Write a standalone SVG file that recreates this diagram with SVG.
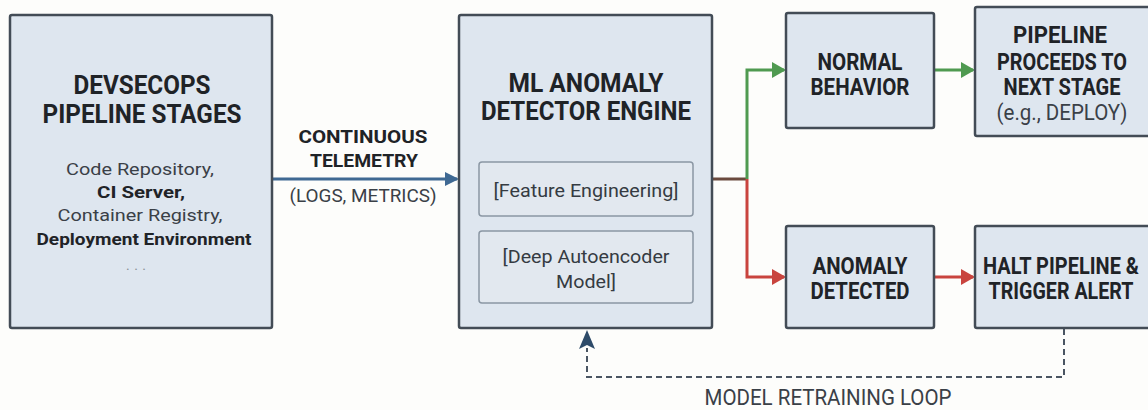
<svg xmlns="http://www.w3.org/2000/svg" width="1148" height="410" viewBox="0 0 1148 410">
<style>
.box{fill:#dee6ef;stroke:#434c56;stroke-width:2.5}
.inner{fill:#e2e8ef;stroke:#8b97a4;stroke-width:1.5}
text{font-family:Roboto,"Liberation Sans",sans-serif;text-anchor:middle;fill:#1f2327}
.t{font-weight:700;font-size:26px}
.h{font-weight:700;font-size:23px}
.b{font-size:17px;fill:#3a4047}
.bb{font-size:17px;font-weight:700;fill:#1f2327}
.i{font-size:19px;fill:#353b42}
.lab{font-weight:700;font-size:18px}
.sub{font-size:18px;fill:#3a4047}
.r{font-size:22px;fill:#3a4047}
.blue{stroke:#3f6993;stroke-width:3;fill:none}
.green{stroke:#4f9a50;stroke-width:3;fill:none}
.red{stroke:#c9443e;stroke-width:3;fill:none}
.dash{stroke:#4a5562;stroke-width:2;fill:none;stroke-dasharray:6 4}
</style>
<defs>
<marker id="ab" markerWidth="14" markerHeight="14" refX="12" refY="7" orient="auto" markerUnits="userSpaceOnUse"><path d="M0,0 L14,7 L0,14 Z" fill="#3f6993"/></marker>
<marker id="ag" markerWidth="14" markerHeight="16" refX="12" refY="8" orient="auto" markerUnits="userSpaceOnUse"><path d="M0,0 L14,8 L0,16 Z" fill="#4f9a50"/></marker>
<marker id="ar" markerWidth="14" markerHeight="16" refX="12" refY="8" orient="auto" markerUnits="userSpaceOnUse"><path d="M0,0 L14,8 L0,16 Z" fill="#c9443e"/></marker>
</defs>
<rect width="1148" height="410" fill="#fdfdfb"/>
<g id="connectors">
<line class="blue" x1="273" y1="179" x2="457" y2="179" marker-end="url(#ab)"/>
<line x1="712" y1="179" x2="747" y2="179" stroke="#6b4a3e" stroke-width="3"/>
<polyline class="green" points="747,179 747,70 784,70" marker-end="url(#ag)"/>
<line class="green" x1="934" y1="70" x2="973" y2="70" marker-end="url(#ag)"/>
<polyline class="red" points="747,179 747,277 784,277" marker-end="url(#ar)"/>
<line class="red" x1="934" y1="277" x2="973" y2="277" marker-end="url(#ar)"/>
<polyline class="dash" points="1064,329 1064,377 587,377 587,348"/>
<path d="M587,330 L595,349 L587,345 L579,349 Z" fill="#2e4b69"/>
<text class="lab" x="363" y="143" textLength="129" lengthAdjust="spacingAndGlyphs">CONTINUOUS</text>
<text class="lab" x="364" y="167" textLength="108" lengthAdjust="spacingAndGlyphs">TELEMETRY</text>
<text class="sub" x="363" y="202" textLength="147" lengthAdjust="spacingAndGlyphs">(LOGS, METRICS)</text>
<text class="r" x="828" y="405" textLength="247" lengthAdjust="spacingAndGlyphs">MODEL RETRAINING LOOP</text>
</g>
<g id="devsecops">
<rect class="box" x="10" y="15" width="262" height="313" rx="2"/>
<text class="t" x="142" y="94" textLength="137" lengthAdjust="spacingAndGlyphs">DEVSECOPS</text>
<text class="t" x="142" y="123" textLength="199" lengthAdjust="spacingAndGlyphs">PIPELINE STAGES</text>
<text class="b" x="140" y="175" textLength="148" lengthAdjust="spacingAndGlyphs">Code Repository,</text>
<text class="bb" x="141" y="198" textLength="88" lengthAdjust="spacingAndGlyphs">CI Server,</text>
<text class="b" x="140" y="221" textLength="165" lengthAdjust="spacingAndGlyphs">Container Registry,</text>
<text class="bb" x="144" y="245" textLength="215" lengthAdjust="spacingAndGlyphs">Deployment Environment</text>
<text class="b" x="136" y="270" style="fill:#8a8f96;font-size:14px" textLength="20" lengthAdjust="spacing">...</text>
</g>
<g id="engine">
<rect class="box" x="459" y="15" width="253" height="313" rx="2"/>
<text class="t" x="586" y="92" textLength="155" lengthAdjust="spacingAndGlyphs">ML ANOMALY</text>
<text class="t" x="586" y="120" textLength="210" lengthAdjust="spacingAndGlyphs">DETECTOR ENGINE</text>
<rect class="inner" x="479" y="162" width="214" height="54" rx="3"/>
<text class="i" x="586" y="197" textLength="185" lengthAdjust="spacingAndGlyphs">[Feature Engineering]</text>
<rect class="inner" x="479" y="231" width="214" height="72" rx="3"/>
<text class="i" x="586" y="263" textLength="167" lengthAdjust="spacingAndGlyphs">[Deep Autoencoder</text>
<text class="i" x="586" y="288" textLength="60" lengthAdjust="spacingAndGlyphs">Model]</text>
</g>
<g id="normal">
<rect class="box" x="786" y="13" width="148" height="115" rx="2"/>
<text class="h" x="860" y="70" textLength="85" lengthAdjust="spacingAndGlyphs">NORMAL</text>
<text class="h" x="860" y="95" textLength="99" lengthAdjust="spacingAndGlyphs">BEHAVIOR</text>
</g>
<g id="proceed">
<rect class="box" x="975" y="7" width="176" height="129" rx="2"/>
<text class="h" x="1060" y="43" textLength="94" lengthAdjust="spacingAndGlyphs">PIPELINE</text>
<text class="h" x="1062" y="70" textLength="130" lengthAdjust="spacingAndGlyphs">PROCEEDS TO</text>
<text class="h" x="1062" y="95" textLength="117" lengthAdjust="spacingAndGlyphs">NEXT STAGE</text>
<text class="r" x="1062" y="120" textLength="131" lengthAdjust="spacingAndGlyphs">(e.g., DEPLOY)</text>
</g>
<g id="anomaly">
<rect class="box" x="786" y="226" width="148" height="102" rx="2"/>
<text class="h" x="860" y="274" textLength="95" lengthAdjust="spacingAndGlyphs">ANOMALY</text>
<text class="h" x="860" y="299" textLength="99" lengthAdjust="spacingAndGlyphs">DETECTED</text>
</g>
<g id="halt">
<rect class="box" x="975" y="226" width="176" height="102" rx="2"/>
<text class="h" x="1061" y="274" textLength="156" lengthAdjust="spacingAndGlyphs">HALT PIPELINE &amp;</text>
<text class="h" x="1061" y="299" textLength="145" lengthAdjust="spacingAndGlyphs">TRIGGER ALERT</text>
</g>
</svg>
